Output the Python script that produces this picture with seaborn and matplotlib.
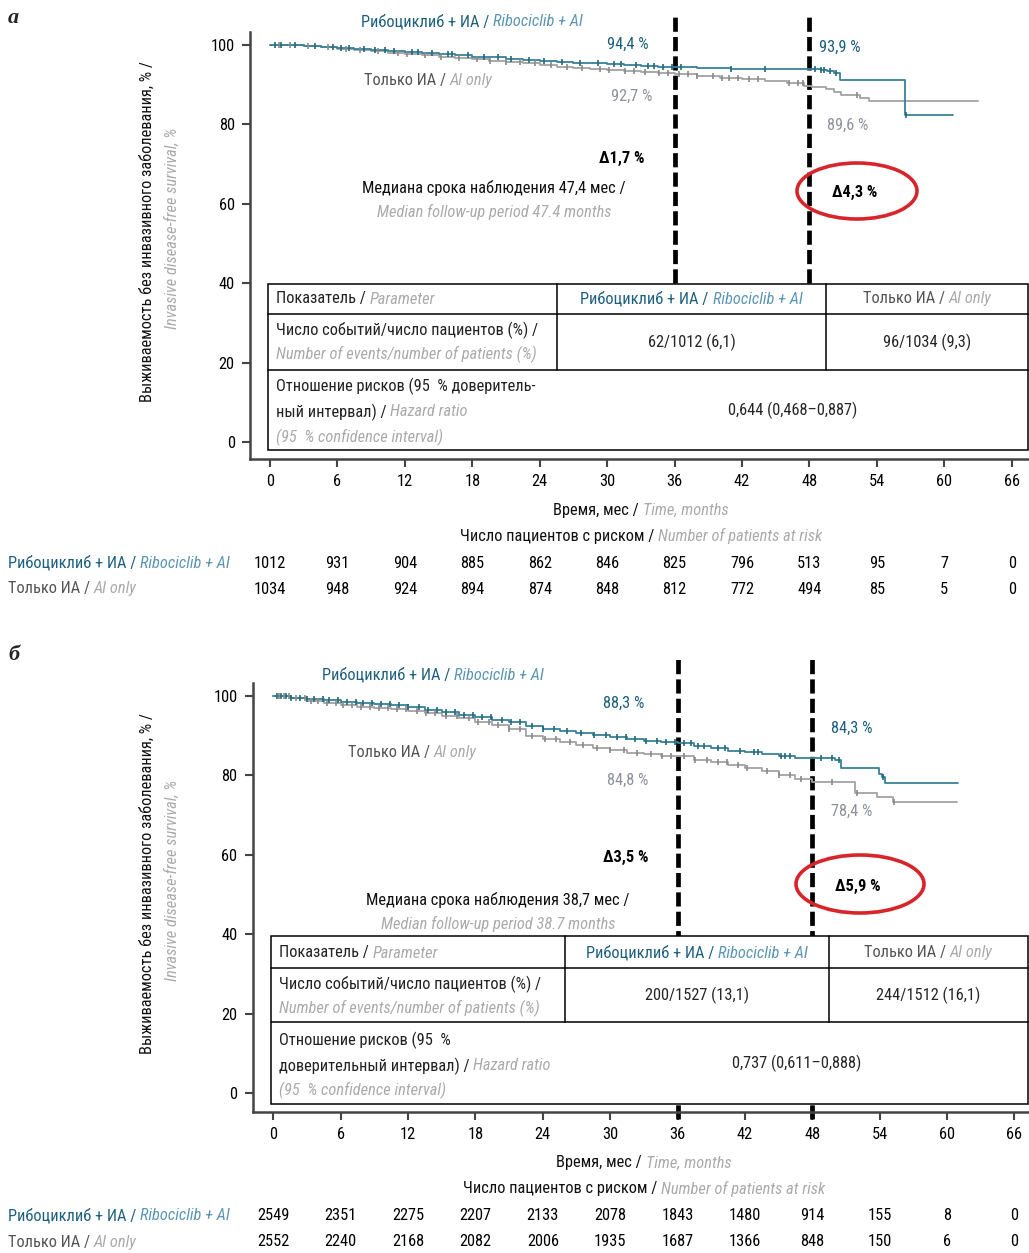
import numpy as np
import pandas as pd
import matplotlib
matplotlib.use("Agg")
import matplotlib.pyplot as plt
import seaborn as sns
from matplotlib import font_manager
from matplotlib.patches import Ellipse, Rectangle
from matplotlib.transforms import blended_transform_factory

# ---------------------------------------------------------------- data
x_ticks = [0, 6, 12, 18, 24, 30, 36, 42, 48, 54, 60, 66]
y_ticks = [0, 20, 40, 60, 80, 100]
landmarks = [36, 48]

# panel a - Ribociclib + AI
a_ribo_t = [0, 1.5, 3, 4.5, 6, 7.5, 9, 10.5, 12, 13.5, 15, 16.5, 18, 19.5, 21, 22.5, 24, 25.5,
            27, 28.5, 30, 31.5, 33, 34.5, 36, 38, 41, 44, 47, 49, 49.6, 50.2, 50.7, 56.5, 60.8]
a_ribo_s = [100, 99.9, 99.7, 99.5, 99.3, 99.0, 98.8, 98.5, 98.3, 98.0, 97.7, 97.4, 97.1, 96.9,
            96.6, 96.3, 96.1, 95.8, 95.6, 95.4, 95.2, 95.0, 94.8, 94.6, 94.4, 94.3, 94.1, 94.0,
            93.9, 93.7, 93.4, 92.9, 91.3, 82.3, 82.3]
a_ribo_cens = [0.4, 1.0, 2.2, 4.0, 5.6, 6.3, 7.0, 8.4, 9.3, 10.2, 11.0, 12.6, 13.2, 14.4, 15.8,
               16.2, 17.6, 19.0, 20.3, 21.4, 23.0, 24.4, 26.0, 27.6, 29.2, 30.6, 31.2, 32.6,
               33.6, 34.2, 35.0, 35.8, 36.6, 41.0, 44.0, 48.5, 49.0, 49.3, 49.8, 50.4, 56.6]
# panel a - AI only
a_ai_t = [0, 1.5, 3, 4.5, 6, 7.5, 9, 10.5, 12, 13.5, 15, 16.5, 18, 19.5, 21, 22.5, 24, 25.5,
          27, 28.5, 30, 31.5, 33, 34.5, 36, 38, 40, 42, 44, 46, 47.5, 48.2, 49.5, 50.2, 50.8,
          52.5, 53.3, 63.0]
a_ai_s = [100, 99.9, 99.7, 99.4, 99.1, 98.8, 98.5, 98.1, 97.8, 97.4, 97.1, 96.8, 96.5, 96.1,
          95.8, 95.4, 95.0, 94.6, 94.3, 94.0, 93.7, 93.4, 93.1, 92.9, 92.7, 92.2, 91.8, 91.4,
          91.0, 90.4, 89.8, 89.5, 89.0, 88.2, 87.4, 86.6, 85.8, 85.8]
a_ai_cens = [0.8, 1.8, 3.4, 5.2, 6.8, 8.0, 9.6, 11.4, 12.2, 13.8, 15.2, 16.8, 18.4, 19.6, 21.0,
             22.2, 23.6, 25.0, 26.4, 27.8, 29.4, 30.2, 31.6, 32.4, 33.4, 34.6, 35.4, 36.4, 37.2,
             38.0, 39.4, 40.2, 40.8, 41.6, 42.6, 43.4, 46.2, 47.0, 47.4, 52.2]

# panel b - Ribociclib + AI
b_ribo_t = [0, 1.5, 3, 4.5, 6, 7.5, 9, 10.5, 12, 13.5, 15, 16.5, 18, 19.5, 21, 22.5, 24, 25.5,
            27, 28.5, 30, 31.5, 33, 34.5, 36, 37.5, 39, 40.5, 42, 43.5, 45, 46.5, 48, 50.0, 50.6,
            53.9, 54.2, 54.5, 61.0]
b_ribo_s = [100, 99.6, 99.2, 98.9, 98.6, 98.3, 98.0, 97.7, 97.2, 96.6, 96.0, 95.3, 94.7, 94.1,
            93.4, 92.5, 91.8, 91.2, 90.6, 90.2, 89.8, 89.2, 88.8, 88.5, 88.3, 87.5, 86.8, 86.2,
            85.8, 85.3, 84.8, 84.4, 84.3, 83.9, 82.0, 80.5, 79.5, 78.0, 78.0]
b_ribo_cens = [0.3, 0.7, 1.1, 1.6, 2.4, 3.0, 3.6, 4.4, 5.0, 5.8, 6.6, 7.4, 8.0, 8.8, 9.6, 10.4,
               11.2, 12.0, 13.0, 13.8, 14.6, 15.4, 16.2, 17.0, 17.8, 18.6, 19.4, 20.4, 21.2,
               22.0, 23.0, 24.0, 25.0, 26.2, 27.4, 28.6, 29.6, 30.6, 31.4, 32.2, 33.2, 34.2,
               35.0, 35.8, 36.6, 37.2, 37.8, 38.4, 39.6, 40.2, 41.6, 42.8, 43.2, 45.2, 45.6,
               46.0, 48.8, 49.8, 50.4, 54.3]
# panel b - AI only
b_ai_t = [0, 1.5, 3, 4.5, 6, 7.5, 9, 10.5, 12, 13.5, 15, 16.5, 18, 19.5, 21, 22.5, 24, 25.5,
          27, 28.5, 30, 31.5, 33, 34.5, 36, 37.5, 39, 40.5, 42, 43.5, 45, 46.5, 48, 51.8, 53.8,
          55.2, 60.9]
b_ai_s = [100, 99.4, 98.8, 98.3, 97.8, 97.3, 97.0, 96.7, 96.2, 95.7, 95.1, 94.5, 93.6, 92.7,
          91.6, 90.0, 89.2, 88.5, 87.6, 86.9, 86.3, 85.7, 85.3, 85.0, 84.8, 84.0, 83.3, 82.6,
          82.0, 81.2, 80.0, 79.0, 78.4, 75.6, 74.5, 73.2, 73.2]
b_ai_cens = [0.5, 1.0, 1.4, 2.0, 2.8, 3.4, 4.0, 4.8, 5.6, 6.2, 7.0, 7.8, 8.6, 9.4, 10.2, 11.0,
             11.8, 12.8, 13.6, 14.4, 15.4, 16.4, 17.4, 18.2, 19.2, 20.0, 21.0, 22.0, 23.0,
             24.2, 25.2, 26.4, 27.6, 28.8, 30.0, 31.2, 32.4, 33.6, 34.6, 35.4, 36.6, 37.6,
             38.6, 39.6, 40.4, 41.4, 42.2, 44.0, 45.0, 46.0, 47.0, 49.8, 52.0, 55.3]

# numbers at risk
a_risk_ribo = [1012, 931, 904, 885, 862, 846, 825, 796, 513, 95, 7, 0]
a_risk_ai = [1034, 948, 924, 894, 874, 848, 812, 772, 494, 85, 5, 0]
b_risk_ribo = [2549, 2351, 2275, 2207, 2133, 2078, 1843, 1480, 914, 155, 8, 0]
b_risk_ai = [2552, 2240, 2168, 2082, 2006, 1935, 1687, 1366, 848, 150, 6, 0]

# landmark labels
a_lab_ribo = ["94,4 %", "93,9 %"]
a_lab_ai = ["92,7 %", "89,6 %"]
a_delta = ["\u03941,7 %", "\u03944,3 %"]
b_lab_ribo = ["88,3 %", "84,3 %"]
b_lab_ai = ["84,8 %", "78,4 %"]
b_delta = ["\u03943,5 %", "\u03945,9 %"]

a_median = ["Медиана срока наблюдения 47,4 мес /", "Median follow-up period 47.4 months"]
b_median = ["Медиана срока наблюдения 38,7 мес /", "Median follow-up period 38.7 months"]

a_events = ["62/1012 (6,1)", "96/1034 (9,3)"]
a_hr = "0,644 (0,468\u20130,887)"
b_events = ["200/1527 (13,1)", "244/1512 (16,1)"]
b_hr = "0,737 (0,611\u20130,888)"

# ---------------------------------------------------------------- style
sns.set_theme(style="ticks")
names = {f.name for f in font_manager.fontManager.ttflist}
cands = ["Liberation Sans Narrow", "Roboto Condensed", "Open Sans Condensed",
         "Noto Sans Condensed", "DejaVu Sans Condensed"]
FONT = next((c for c in cands if c in names), None)
NARROW = FONT is not None
if FONT is None:
    FONT = "Liberation Sans"
FS = 11.8 if NARROW else 10.0
plt.rcParams["font.family"] = [FONT, "DejaVu Sans"]

TEAL_D = "#1c5f7e"
TEAL_L = "#5a95b3"
GRAY_D = "#555555"
GRAY_L = "#aaaaaa"
GRAY_P = "#8c919b"
CURVE_T = "#3a8198"
CURVE_G = "#a3a3a3"
MARK_T = "#1f6a80"
MARK_G = "#8a8a8a"
RED = "#d7262b"
TZ = 8

W, H = 1029, 1253
fig = plt.figure(figsize=(W / 100, H / 100), dpi=100)


def px_axes(left, right, top, bottom):
    return fig.add_axes([left / W, 1 - bottom / H, (right - left) / W, (bottom - top) / H])


ax_a = px_axes(250, 1029, 32, 459)
ax_b = px_axes(252.7, 1029, 683, 1111.7)
ax_a.set_xlim(-1.78, 67.53)
ax_a.set_ylim(-4.28, 103.3)
ax_b.set_xlim(-1.83, 67.3)
ax_b.set_ylim(-4.7, 103.3)

ov = fig.add_axes([0, 0, 1, 1], zorder=10)
ov.set_xlim(0, W)
ov.set_ylim(H, 0)
ov.axis("off")
ov.patch.set_alpha(0)
renderer = fig.canvas.get_renderer()


def step_at(times, surv, c):
    idx = np.searchsorted(np.asarray(times), c, side="right") - 1
    return np.asarray(surv)[idx]


def draw_km(ax, t, s, cens, col_line, col_mark):
    df = pd.DataFrame({"t": t, "s": s})
    sns.lineplot(data=df, x="t", y="s", ax=ax, color=col_line, lw=1.3,
                 drawstyle="steps-post", estimator=None, zorder=3)
    cy = [step_at(t, s, c) for c in cens]
    dc = pd.DataFrame({"t": cens, "s": cy})
    sns.scatterplot(data=dc, x="t", y="s", ax=ax, marker="|", s=14, color=col_mark,
                    linewidth=1.2, zorder=4)


def style_axes(ax):
    sns.despine(ax=ax)
    for sp in ("left", "bottom"):
        ax.spines[sp].set_color("#444444")
        ax.spines[sp].set_linewidth(1.8)
    ax.set_xticks(x_ticks)
    ax.set_yticks(y_ticks)
    ax.tick_params(axis="both", length=6, width=1.5, color="#444444", labelsize=FS,
                   labelcolor="black", pad=5)
    ax.set_xlabel("")
    ax.set_ylabel("")


def twidth(s, fs, style, weight):
    t1 = ov.text(0, 0, s + "|", fontsize=fs, fontstyle=style, fontweight=weight)
    w1 = t1.get_window_extent(renderer).width
    t1.remove()
    t2 = ov.text(0, 0, "|", fontsize=fs, fontstyle=style, fontweight=weight)
    w2 = t2.get_window_extent(renderer).width
    t2.remove()
    return w1 - w2


def rich(x, y, parts, ha="left", fs=FS):
    widths = [twidth(p[0], fs, p[2], p[3]) for p in parts]
    total = sum(widths)
    if ha == "left":
        x0 = x
    elif ha == "center":
        x0 = x - total / 2
    else:
        x0 = x - total
    for (s, c, st, wt), w in zip(parts, widths):
        ov.text(x0, y, s, color=c, fontsize=fs, fontstyle=st, fontweight=wt,
                ha="left", va="center", zorder=TZ)
        x0 += w


def P(s, c="black", st="normal", wt="normal"):
    return (s, c, st, wt)


RIBO = [P("Рибоциклиб + ИА / ", TEAL_D), P("Ribociclib + AI", TEAL_L, "italic")]
AIO = [P("Только ИА / ", GRAY_D), P("AI only", GRAY_L, "italic")]


def draw_table(L, R, T, B, h1, h2, c1, c2, ytxt, events, hr, hr_lines):
    ov.add_patch(Rectangle((L, T), R - L, B - T, facecolor="white", edgecolor="black",
                           lw=1.1, zorder=5))
    kw = dict(color="black", lw=1.1, zorder=6)
    ov.plot([L, R], [h1, h1], **kw)
    ov.plot([L, R], [h2, h2], **kw)
    ov.plot([c1, c1], [T, h2], **kw)
    ov.plot([c2, c2], [T, h2], **kw)
    tx = L + 8
    rich(tx, ytxt[0], [P("Показатель / ", "#222222"), P("Parameter", GRAY_L, "italic")])
    rich((c1 + c2) / 2, ytxt[0], RIBO, ha="center")
    rich((c2 + R) / 2, ytxt[0], AIO, ha="center")
    rich(tx, ytxt[1], [P("Число событий/число пациентов (%) /", "#222222")])
    rich(tx, ytxt[2], [P("Number of events/number of patients (%)", GRAY_L, "italic")])
    ov.text((c1 + c2) / 2, (h1 + h2) / 2, events[0], fontsize=FS, ha="center", va="center",
            zorder=TZ)
    ov.text((c2 + R) / 2, (h1 + h2) / 2, events[1], fontsize=FS, ha="center", va="center",
            zorder=TZ)
    for y, parts in zip(ytxt[3:], hr_lines):
        rich(tx, y, parts)
    ov.text((c1 + R) / 2, (h2 + B) / 2, hr, fontsize=FS, ha="center", va="center",
            zorder=TZ)


def panel(ax, data, lab_pos, risk, risk_y, table, deltas_pos, ellipse, median_pos,
          ylab_y, xlab_y, dash_top, dash_bot, ribo_lab, ai_lab, lab_ribo, lab_ai,
          deltas, median):
    (rt, rs, rc), (at, as_, ac) = data
    draw_km(ax, at, as_, ac, CURVE_G, MARK_G)
    draw_km(ax, rt, rs, rc, CURVE_T, MARK_T)
    for lm in landmarks:
        ax.plot([lm, lm], [dash_bot, dash_top], color="black", lw=3.4,
                linestyle=(0, (3.0, 1.1)), clip_on=False, zorder=2)
    style_axes(ax)
    rich(ribo_lab[0], ribo_lab[1], RIBO, ha="center")
    rich(ai_lab[0], ai_lab[1], AIO, ha="center")
    for (x, y), s in zip(lab_pos[0], lab_ribo):
        ov.text(x, y, s, color=TEAL_D, fontsize=FS, ha="center", va="center", zorder=TZ)
    for (x, y), s in zip(lab_pos[1], lab_ai):
        ov.text(x, y, s, color=GRAY_P, fontsize=FS, ha="center", va="center", zorder=TZ)
    for (x, y), s in zip(deltas_pos, deltas):
        ov.text(x, y, s, color="black", fontsize=FS, fontweight="bold", ha="center",
                va="center", zorder=TZ)
    ov.add_patch(Ellipse(ellipse[0], ellipse[1], ellipse[2], fill=False, edgecolor=RED,
                         lw=2.6, zorder=7))
    ov.text(median_pos[0], median_pos[1], median[0], fontsize=FS, ha="center", va="center",
            color="#111111", zorder=TZ)
    ov.text(median_pos[0], median_pos[1] + 24, median[1], fontsize=FS, ha="center",
            va="center", color=GRAY_L, fontstyle="italic", zorder=TZ)
    ov.text(147, ylab_y, "Выживаемость без инвазивного заболевания, % /", rotation=90,
            fontsize=FS, ha="center", va="center", color="#111111", zorder=TZ)
    ov.text(172, ylab_y - 4, "Invasive disease-free survival, %", rotation=90,
            fontsize=FS, ha="center", va="center", color=GRAY_L, fontstyle="italic",
            zorder=TZ)
    xc = ax.transData.transform((33, 0))[0]
    rich(xc, xlab_y, [P("Время, мес / ", "#111111"), P("Time, months", GRAY_L, "italic")],
         ha="center")
    rich(xc, xlab_y + 26, [P("Число пациентов с риском / ", "#111111"),
                           P("Number of patients at risk", GRAY_L, "italic")], ha="center")
    tr = blended_transform_factory(ax.transData, ov.transData)
    rich(8, risk_y, RIBO)
    rich(8, risk_y + 26, AIO)
    for m, n1, n2 in zip(x_ticks, risk[0], risk[1]):
        ax.text(m, risk_y, str(n1), transform=tr, fontsize=FS, ha="center", va="center",
                color="black")
        ax.text(m, risk_y + 26, str(n2), transform=tr, fontsize=FS, ha="center",
                va="center", color="black")
    draw_table(*table)


# ---------------------------------------------------------------- panel a
panel(ax_a,
      data=((a_ribo_t, a_ribo_s, a_ribo_cens), (a_ai_t, a_ai_s, a_ai_cens)),
      lab_pos=([(628, 44), (840, 47)], [(632, 96), (848, 125)]),
      risk=(a_risk_ribo, a_risk_ai), risk_y=563,
      table=(268, 1028, 284, 450, 314, 370, 557, 826, (299, 330, 354, 386, 412, 437),
             a_events, a_hr,
             [[P("Отношение рисков (95  % доверитель-", "#222222")],
              [P("ный интервал) / ", "#222222"), P("Hazard ratio", GRAY_L, "italic")],
              [P("(95  % confidence interval)", GRAY_L, "italic")]]),
      deltas_pos=[(622, 158), (855, 192)], ellipse=((857, 191), 120, 56),
      median_pos=(494, 188), ylab_y=232, xlab_y=510,
      dash_top=108.3, dash_bot=40, ribo_lab=(472, 22), ai_lab=(428, 80),
      lab_ribo=a_lab_ribo, lab_ai=a_lab_ai, deltas=a_delta, median=a_median)

# ---------------------------------------------------------------- panel b
panel(ax_b,
      data=((b_ribo_t, b_ribo_s, b_ribo_cens), (b_ai_t, b_ai_s, b_ai_cens)),
      lab_pos=([(624, 703), (852, 728)], [(628, 780), (852, 811)]),
      risk=(b_risk_ribo, b_risk_ai), risk_y=1216,
      table=(270.7, 1028, 936, 1104, 968, 1022, 565, 829, (953, 984, 1008, 1040, 1066, 1090),
             b_events, b_hr,
             [[P("Отношение рисков (95  %", "#222222")],
              [P("доверительный интервал) / ", "#222222"), P("Hazard ratio", GRAY_L, "italic")],
              [P("(95  % confidence interval)", GRAY_L, "italic")]]),
      deltas_pos=[(626, 857), (858, 886)], ellipse=((860, 884), 128, 58),
      median_pos=(498, 900), ylab_y=884, xlab_y=1163,
      dash_top=109.8, dash_bot=-6.5, ribo_lab=(433, 675), ai_lab=(412, 752),
      lab_ribo=b_lab_ribo, lab_ai=b_lab_ai, deltas=b_delta, median=b_median)

for s, y in (("а", 18), ("б", 655)):
    ov.text(8, y, s, fontsize=16, fontweight="bold", fontstyle="italic",
            family=["Liberation Serif", "DejaVu Serif"], ha="left", va="center", zorder=TZ)

fig.savefig("out.png", dpi=100)
